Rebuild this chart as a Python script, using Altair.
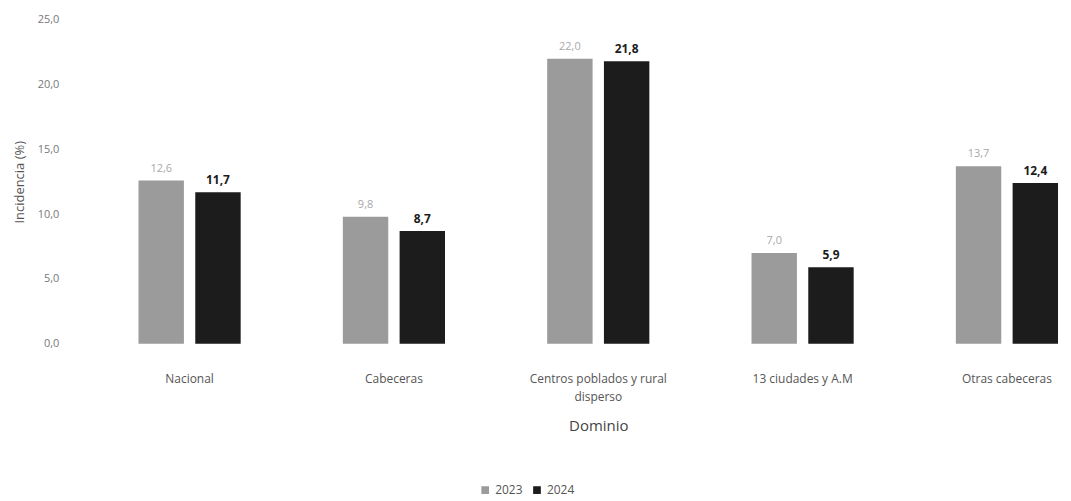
import altair as alt
import pandas as pd

categorias = ["Nacional", "Cabeceras", "Centros poblados y rural disperso", "13 ciudades y A.M", "Otras cabeceras"]
valores_2023 = [12.6, 9.8, 22.0, 7.0, 13.7]
valores_2024 = [11.7, 8.7, 21.8, 5.9, 12.4]
anios = ["2023", "2024"]

rows = []
for c, a, b in zip(categorias, valores_2023, valores_2024):
    rows.append({"Dominio": c, "Año": anios[0], "v": a, "lbl": f"{a:.1f}".replace(".", ",")})
    rows.append({"Dominio": c, "Año": anios[1], "v": b, "lbl": f"{b:.1f}".replace(".", ",")})
df = pd.DataFrame(rows)

FONT = "Open Sans"

x = alt.X(
    "Dominio:N",
    sort=categorias,
    scale=alt.Scale(paddingInner=0.5, paddingOuter=0),
    axis=alt.Axis(
        title="Dominio",
        labelAngle=0,
        ticks=False,
        domain=False,
        labelPadding=30,
        labelFontSize=12,
        labelColor="#555555",
        labelFont=FONT,
        labelLineHeight=18,
        labelExpr="datum.label == 'Centros poblados y rural disperso' ? ['Centros poblados y rural', 'disperso'] : datum.label",
        titleFont=FONT,
        titleFontSize=15,
        titleFontWeight="normal",
        titleColor="#444444",
        titlePadding=16,
    ),
)
xo = alt.XOffset("Año:N", sort=anios, scale=alt.Scale(paddingInner=0.2, paddingOuter=0))
y = alt.Y(
    "v:Q",
    scale=alt.Scale(domain=[0, 25]),
    axis=alt.Axis(
        title="Incidencia (%)",
        values=[0, 5, 10, 15, 20, 25],
        labelExpr="replace(format(datum.value, '.1f'), '.', ',')",
        grid=False,
        ticks=False,
        domain=False,
        offset=72,
        labelPadding=8,
        labelFontSize=11,
        labelColor="#777777",
        labelFont=FONT,
        titleFont=FONT,
        titleFontSize=13,
        titleFontWeight="normal",
        titleColor="#555555",
        titlePadding=11,
    ),
)

base = alt.Chart(df)

bars = base.mark_bar().encode(
    x=x,
    xOffset=xo,
    y=y,
    color=alt.Color(
        "Año:N",
        sort=anios,
        scale=alt.Scale(domain=anios, range=["#9b9b9b", "#1c1c1c"]),
        legend=alt.Legend(
            title=None,
            orient="none",
            legendX=342,
            legendY=466,
            direction="horizontal",
            symbolType="square",
            symbolSize=60,
            labelFont=FONT,
            labelFontSize=12,
            labelColor="#555555",
            columnPadding=8,
        ),
    ),
)

t23 = base.transform_filter(alt.datum["Año"] == "2023").mark_text(
    dy=-12, fontSize=11, font=FONT, color="#a8a8a8"
).encode(x=x, xOffset=xo, y=y, text="lbl:N")

t24 = base.transform_filter(alt.datum["Año"] == "2024").mark_text(
    dy=-12, fontSize=12, font=FONT, fontWeight="bold", color="#1c1c1c"
).encode(x=x, xOffset=xo, y=y, text="lbl:N")

chart = (
    alt.layer(bars, t23, t24)
    .properties(width=923, height=325, background="#ffffff")
    .configure_view(stroke=None)
)

chart.save("out.html", embed_options={"renderer": "svg", "actions": False})
